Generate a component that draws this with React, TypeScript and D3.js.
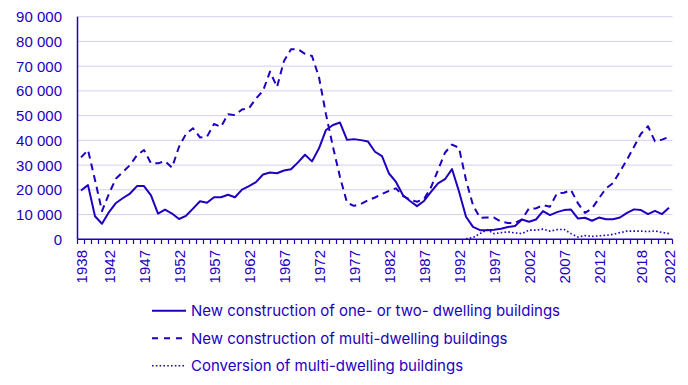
import * as d3 from "d3";

const years: number[] = d3.range(1938, 2023);

// New construction of one- or two- dwelling buildings
const oneTwo: number[] = [
  19700, 21900, 9300, 6300, 11000, 14700, 16700, 18500, 21500, 21500,
  17800, 10400, 12000, 10400, 8200, 9500, 12400, 15400, 14800, 17000,
  17000, 18000, 17000, 20100, 21500, 23100, 26200, 27000, 26700, 27800,
  28300, 31100, 34200, 31500, 36800, 44200, 46200, 47200, 40200, 40500,
  40100, 39500, 35400, 33600, 26600, 23200, 17800, 15500, 13400, 15500,
  19200, 22600, 24300, 28400, 19300, 9100, 5000, 3700, 3700, 3900,
  4300, 5000, 5400, 8000, 7100, 8000, 11400, 9800, 11000, 11800,
  12000, 8400, 8700, 7500, 8800, 8100, 8100, 8800, 10700, 12100,
  11800, 10200, 11500, 10200, 12800,
];

// New construction of multi-dwelling buildings
const multi: number[] = [
  33100, 36100, 24000, 11400, 18500, 24600, 27300, 30000, 34000, 36100,
  30700, 30700, 31600, 29000, 37400, 42600, 44900, 41200, 41500, 46600,
  45500, 50600, 50200, 52500, 53000, 56900, 60000, 67800, 61600, 72100,
  76800, 76800, 75000, 74100, 65500, 50500, 37300, 25200, 14800, 13500,
  14300, 15800, 16900, 18300, 19600, 20600, 17500, 16000, 15200, 16200,
  21000, 28000, 35000, 38300, 37000, 24000, 13800, 8700, 8800, 8800,
  7100, 6600, 6600, 8100, 12500, 12500, 13800, 13200, 18600, 18800,
  19900, 14500, 10700, 12500, 16600, 20600, 22700, 27400, 32200, 37400,
  42700, 45700, 39600, 40300, 41400,
];

// Conversion of multi-dwelling buildings (from 1993)
const conversion: (number | null)[] = [
  ...new Array(55).fill(null),
  200, 700, 2300, 3900, 2300, 2700, 3000, 2600, 2300, 3700,
  3700, 4100, 3300, 3900, 4000, 2300, 900, 1500, 1200, 1400,
  1600, 2000, 2700, 3300, 3300, 3300, 3100, 3400, 2800, 2300,
];

const labelYears: number[] = [
  1938, 1942, 1947, 1952, 1957, 1962, 1967, 1972, 1977, 1982, 1987, 1992,
  1997, 2002, 2007, 2012, 2018, 2022,
];
const yTicks: number[] = d3.range(0, 90001, 10000);

const legendLabels: string[] = [
  "New construction of one- or two- dwelling buildings",
  "New construction of multi-dwelling buildings",
  "Conversion of multi-dwelling buildings",
];

const W = 688;
const H = 385;
const BLUE = "#1e00be";
const GRID = "#d2d0f0";
const FONT = "'Liberation Sans', Arial, sans-serif";
const LEGEND_FONT = "Inter, Roboto, sans-serif";

export default function App() {
  const x = d3.scaleBand<number>().domain(years).range([77.5, 672.5]);
  const y = d3.scaleLinear().domain([0, 90000]).range([239.3, 16.7]);
  const cx = (yr: number) => (x(yr) ?? 0) + x.bandwidth() / 2;

  const line = d3
    .line<number | null>()
    .defined((d) => d != null)
    .x((_, i) => cx(years[i]))
    .y((d) => y(d as number));

  const fmt = (v: number) => d3.format(",")(v).replace(/,/g, " ");
  const styles = [
    { dash: undefined, width: 2 },
    { dash: "7,5", width: 2 },
    { dash: "1.6,2.2", width: 1.6 },
  ];
  const series = [oneTwo, multi, conversion];

  return (
    <svg
      width={W}
      height={H}
      style={{ position: "absolute", left: 0, top: 0, background: "#fff" }}
      fontFamily={FONT}
    >
      {yTicks.map((t) => (
        <g key={t}>
          {t > 0 && (
            <line x1={77.5} x2={672.5} y1={y(t)} y2={y(t)} stroke={GRID} strokeWidth={1} />
          )}
          <text x={62} y={y(t)} fontSize={15} fill={BLUE} textAnchor="end" dominantBaseline="central">
            {fmt(t)}
          </text>
        </g>
      ))}
      <line x1={77.5} x2={77.5} y1={16.7} y2={239.3} stroke={BLUE} strokeWidth={1.5} />
      <line x1={77.5} x2={672.5} y1={239.3} y2={239.3} stroke={BLUE} strokeWidth={1.5} />
      {[...years, 2023].map((yr, i) => {
        const px = 77.5 + i * x.step();
        return <line key={yr} x1={px} x2={px} y1={239.3} y2={244} stroke={BLUE} strokeWidth={1.2} />;
      })}
      {labelYears.map((yr) => (
        <text
          key={yr}
          transform={`translate(${cx(yr)},250) rotate(-90)`}
          fontSize={15}
          fill={BLUE}
          textAnchor="end"
          dominantBaseline="central"
        >
          {yr}
        </text>
      ))}
      {series.map((s, i) => (
        <path
          key={i}
          d={line(s) ?? ""}
          fill="none"
          stroke={BLUE}
          strokeWidth={styles[i].width}
          strokeDasharray={styles[i].dash}
          strokeLinejoin="round"
        />
      ))}
      {legendLabels.map((lab, i) => {
        const ly = 310.7 + i * 27.5;
        return (
          <g key={lab}>
            <line
              x1={152}
              x2={186}
              y1={ly}
              y2={ly}
              stroke={BLUE}
              strokeWidth={styles[i].width}
              strokeDasharray={i === 1 ? "6,6" : styles[i].dash}
            />
            <text x={191} y={ly} fontSize={15} fill={BLUE} fontFamily={LEGEND_FONT} dominantBaseline="central">
              {lab}
            </text>
          </g>
        );
      })}
    </svg>
  );
}
